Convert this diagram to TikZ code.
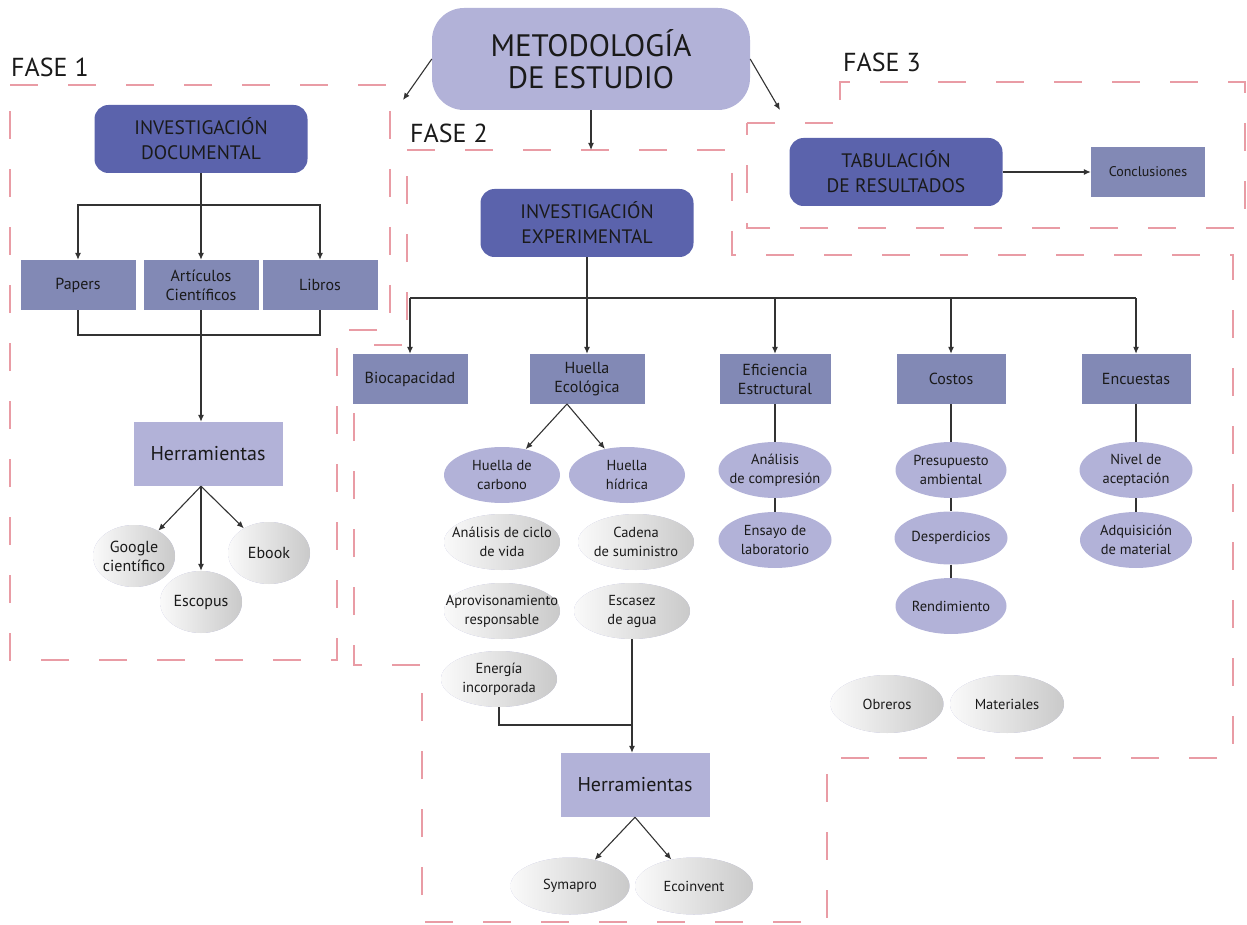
\documentclass[tikz,border=0pt]{standalone}
\usepackage{fontspec}
\setmainfont{PT Sans}
\usetikzlibrary{shapes.geometric,arrows.meta}
\definecolor{lila}{HTML}{B2B2D8}
\definecolor{azul}{HTML}{5B63AC}
\definecolor{azulgris}{HTML}{8289B5}
\definecolor{rosa}{HTML}{E99CA5}
\definecolor{tinta}{HTML}{1A1A1A}

\begin{document}
\begin{tikzpicture}[x=1pt, y=-1pt, >={Latex[length=7pt,width=6pt]},
  every node/.style={text=tinta},
  titulo/.style={fill=lila, rounded corners=32pt, minimum width=318pt, minimum height=102pt, align=center, font=\fontsize{31}{32}\selectfont},
  fuerte/.style={fill=azul, rounded corners=14pt, minimum width=213pt, minimum height=68pt, align=center, font=\fontsize{19.5}{25}\selectfont},
  caja/.style={fill=azulgris, minimum width=115pt, minimum height=50pt, align=center, inner sep=2pt, font=\fontsize{16}{19}\selectfont},
  herr/.style={fill=lila, minimum width=149pt, minimum height=64pt, font=\fontsize{20}{20}\selectfont},
  elip/.style={ellipse, fill=lila, minimum width=116pt, minimum height=56pt, inner xsep=-20pt, inner ysep=-8pt, align=center, font=\fontsize{14.5}{19}\selectfont},
  gris/.style={elip, left color=gray!4, right color=gray!42},
  fase/.style={draw=rosa, line width=2pt, dash pattern=on 28pt off 30pt},
  rotulo/.style={anchor=base west, inner sep=0pt, font=\fontsize{26}{26}\selectfont},
  linea/.style={draw=black!80, line width=1.1pt}]
\useasboundingbox (0,0) rectangle (1247,925);

\draw[fase] (10,85) -- (390,85) -- (390,330) -- (337,330) -- (337,660) -- (10,660) -- cycle;
\draw[fase] (407,150) -- (732,150) -- (732,255) -- (1233,255) -- (1233,758) -- (827,758) -- (827,922) -- (422,922) -- (422,665) -- (354,665) -- (354,345) -- (407,345) -- cycle;
\draw[fase] (747,123) -- (840,123) -- (840,82) -- (1245,82) -- (1245,228) -- (747,228) -- cycle;

\node (fase1) [rotulo] at (11,77) {FASE 1};
\node (fase2) [rotulo] at (410,143) {FASE 2};
\node (fase3) [rotulo] at (843,72) {FASE 3};

\node (metodo) [titulo] at (591,59) {METODOLOGÍA\\DE ESTUDIO};
\node (docum) [fuerte] at (201,139) {INVESTIGACIÓN\\DOCUMENTAL};
\node (exper) [fuerte] at (587,223) {INVESTIGACIÓN\\EXPERIMENTAL};
\node (tabula) [fuerte] at (896,172) {TABULACIÓN\\DE RESULTADOS};
\node (concl) [caja, minimum width=114pt, font=\fontsize{14}{16}\selectfont] at (1148,172) {Conclusiones};

\node (papers) [caja] at (78,285) {Papers};
\node (articulos) [caja] at (201,285) {Artículos\\Científicos};
\node (libros) [caja] at (320,285) {Libros};
\node (herrA) [herr] at (208,454) {Herramientas};
\node (google) [gris, minimum width=82pt, minimum height=62pt, font=\fontsize{16}{19}\selectfont] at (134,556) {Google\\científico};
\node (escopus) [gris, minimum width=82pt, minimum height=62pt, font=\fontsize{16}{19}\selectfont] at (201,602) {Escopus};
\node (ebook) [gris, minimum width=82pt, minimum height=62pt, font=\fontsize{16}{19}\selectfont] at (269,553) {Ebook};

\node (bioc) [caja] at (410,379) {Biocapacidad};
\node (huella) [caja] at (587,379) {Huella\\Ecológica};
\node (efic) [caja, minimum width=111pt] at (775,379) {Eficiencia\\Estructural};
\node (costos) [caja, minimum width=109pt] at (951,379) {Costos};
\node (encuestas) [caja, minimum width=109pt] at (1136,379) {Encuestas};

\node (carbono) [elip] at (502,475) {Huella de\\carbono};
\node (hidrica) [elip] at (627,475) {Huella\\hídrica};
\node (ciclo) [gris] at (502,542) {Análisis de ciclo\\de vida};
\node (cadena) [gris] at (636,542) {Cadena\\de suministro};
\node (aprov) [gris] at (502,611) {Aprovisonamiento\\responsable};
\node (escasez) [gris] at (632,611) {Escasez\\de agua};
\node (energia) [gris] at (499,679) {Energía\\incorporada};
\node (compres) [elip, minimum width=113pt] at (775,470) {Análisis\\de compresión};
\node (ensayo) [elip, minimum width=113pt] at (775,540) {Ensayo de\\laboratorio};
\node (presup) [elip, minimum width=111pt] at (951,470) {Presupuesto\\ambiental};
\node (desper) [elip, minimum width=113pt, minimum height=53pt] at (951,538) {Desperdicios};
\node (rendim) [elip, minimum width=111pt] at (951,606) {Rendimiento};
\node (nivel) [elip, minimum width=113pt] at (1136,470) {Nivel de\\aceptación};
\node (adquis) [elip, minimum width=112pt] at (1136,540) {Adquisición\\de material};
\node (obreros) [gris, minimum width=113pt, minimum height=58pt] at (887,704) {Obreros};
\node (materiales) [gris, minimum width=114pt, minimum height=58pt] at (1007,704) {Materiales};
\node (herrB) [herr] at (635,785) {Herramientas};
\node (symapro) [gris, minimum width=119pt, minimum height=57pt] at (570,886) {Symapro};
\node (ecoinv) [gris, minimum width=118pt, minimum height=57pt] at (694,886) {Ecoinvent};

\coordinate (f1) at (403,100);
\coordinate (f2) at (591,150);
\coordinate (f3) at (780,110);
\draw[linea, ->] (metodo.west) -- (f1);
\draw[linea, ->] (metodo) -- (f2);
\draw[linea, ->] (metodo.east) -- (f3);

\coordinate (rama1) at (0,205);
\coordinate (rama2) at (0,335);
\draw[linea, ->] (docum) -- (articulos);
\draw[linea, ->] (docum |- rama1) -| (papers);
\draw[linea, ->] (docum |- rama1) -| (libros);
\draw[linea] (papers) |- (articulos |- rama2) -| (libros);
\draw[linea, ->] (articulos) -- (articulos |- herrA.north);
\coordinate (pieA) at (articulos |- herrA.south);
\draw[linea, ->] (pieA) -- (google);
\draw[linea, ->] (pieA) -- (escopus);
\draw[linea, ->] (pieA) -- (ebook);

\coordinate (rama3) at (0,298);
\draw[linea, ->] (exper) -- (huella);
\draw[linea] (bioc |- rama3) -- (encuestas |- rama3);
\foreach \n in {bioc,efic,costos,encuestas}
  \draw[linea, ->] (\n |- rama3) -- (\n);
\coordinate (pieH) at (567,404);
\draw[linea, ->] (pieH) -- (carbono);
\draw[linea, ->] (pieH) -- (hidrica);
\draw[linea] (efic) -- (compres) -- (ensayo);
\draw[linea] (costos) -- (presup) -- (desper) -- (rendim);
\draw[linea] (encuestas) -- (nivel) -- (adquis);

\coordinate (rama4) at (0,725);
\draw[linea, ->] (escasez) -- (escasez |- herrB.north);
\draw[linea] (energia) |- (escasez |- rama4);
\coordinate (pieB) at (herrB.south);
\draw[linea, ->] (pieB) -- (symapro);
\draw[linea, ->] (pieB) -- (ecoinv);

\draw[linea, ->] (tabula) -- (concl);
\end{tikzpicture}
\end{document}
